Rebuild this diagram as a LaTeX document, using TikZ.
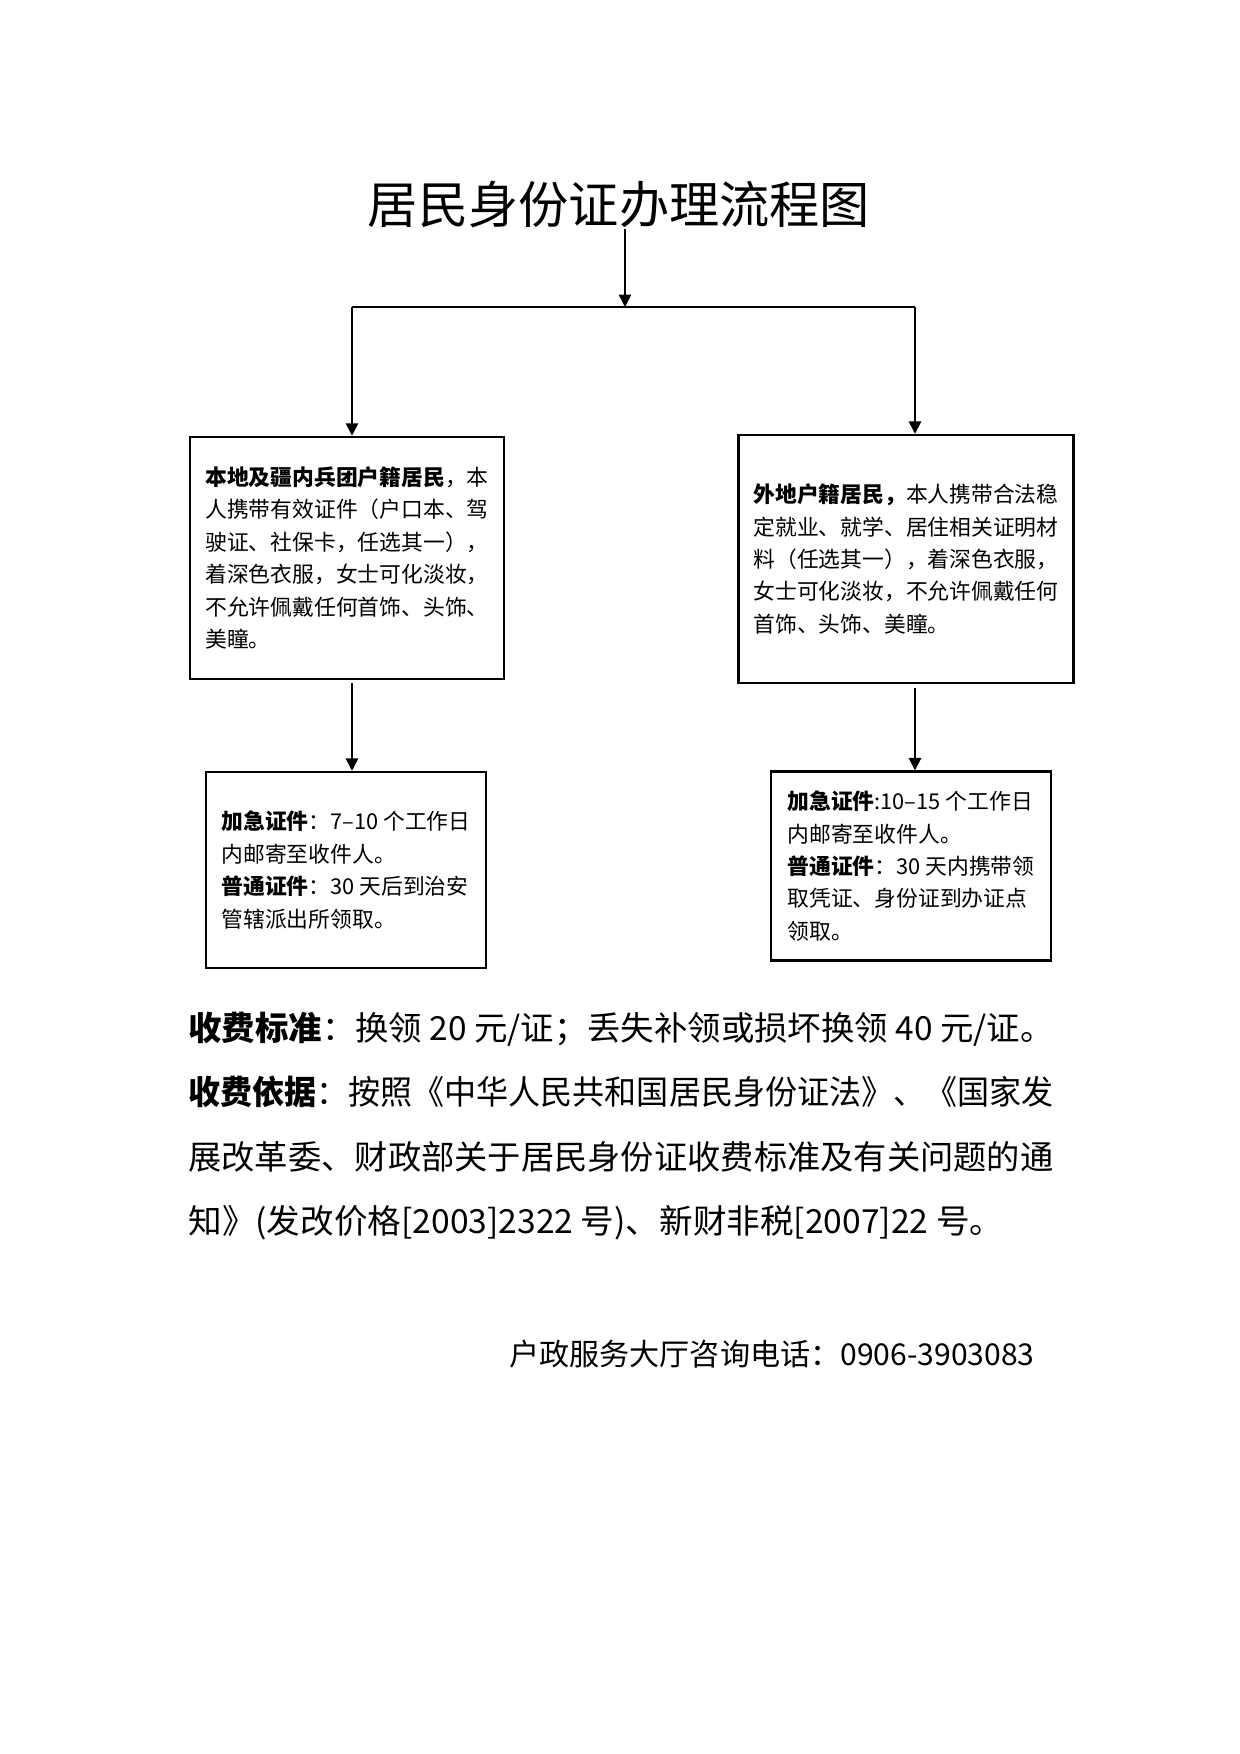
\documentclass[tikz,border=0pt]{standalone}
\usepackage{fontspec}
\usepackage{graphicx}
\setmainfont{Noto Sans CJK SC}
\usetikzlibrary{arrows.meta}
\begin{document}
\begin{tikzpicture}[x=0.16935mm, y=-0.16935mm,
  box/.style={draw, line width=1.2pt, align=left, inner sep=0pt,
    font=\fontsize{10.5pt}{15.6pt}\selectfont},
  link/.style={line width=0.9pt},
  arrow/.style={link, -{Triangle[width=2.1mm,length=2.1mm]}}
  ]
  \useasboundingbox (0,0) rectangle (1240,1754);
  \node (title) [inner sep=0pt, font=\fontsize{24.2pt}{28pt}\selectfont] at (619,205) {居民身份证办理流程图};
  \node (local) [box, minimum width=53.2mm, minimum height=41mm] at (347,558)
    {\textbf{本地及疆内兵团户籍居民}，本\\
     人携带有效证件（户口本、驾\\
     驶证、社保卡，任选其一），\\
     着深色衣服，女士可化淡妆，\\
     不允许佩戴任何首饰、头饰、\\
     美瞳。};
  \node (other) [box, minimum width=56.7mm, minimum height=42mm] at (906,559)
    {\textbf{外地户籍居民，}本人携带合法稳\\
     定就业、就学、居住相关证明材\\
     料（任选其一），着深色衣服，\\
     女士可化淡妆，不允许佩戴任何\\
     首饰、头饰、美瞳。};
  \node (localget) [box, minimum width=47.4mm, minimum height=33.2mm] at (346,870)
    {\textbf{加急证件}：7–10 个工作日\\
     内邮寄至收件人。\\
     \textbf{普通证件}：30 天后到治安\\
     管辖派出所领取。};
  \node (otherget) [box, minimum width=47.4mm, minimum height=32mm] at (911,866)
    {\textbf{加急证件}:10–15 个工作日\\
     内邮寄至收件人。\\
     \textbf{普通证件}：30 天内携带领\\
     取凭证、身份证到办证点\\
     领取。};
  \node (fee) [anchor=west, align=left, inner sep=0pt,
    font=\fontsize{16pt}{31.1pt}\selectfont] at (188,1126)
    {\resizebox{146.5mm}{\height}{\textbf{收费标准}：换领 20 元/证；丢失补领或损坏换领 40 元/证。}\\
     \resizebox{146.5mm}{\height}{\textbf{收费依据}：按照《中华人民共和国居民身份证法》、《国家发}\\
     \resizebox{146.5mm}{\height}{展改革委、财政部关于居民身份证收费标准及有关问题的通}\\
     \resizebox{138mm}{\height}{知》(发改价格[2003]2322 号)、新财非税[2007]22 号。}};
  \node (phone) [anchor=west, inner sep=0pt, font=\fontsize{14.5pt}{18pt}\selectfont] at (509,1354)
    {户政服务大厅咨询电话：0906-3903083};
  % branch points
  \coordinate (split) at (625,307);
  \coordinate (jl) at (352,307);
  \coordinate (jr) at (915,307);
  \draw[arrow, line width=0.7pt] (title.south -| split) -- (split);
  \draw[link] (jl) -- (jr);
  \draw[arrow] (jl) -- (jl |- local.north);
  \draw[arrow] (jr) -- (jr |- other.north);
  \draw[arrow, shorten <=0.5mm] (jl |- local.south) -- (jl |- localget.north);
  \draw[arrow, shorten <=0.6mm] (jr |- other.south) -- (jr |- otherget.north);
\end{tikzpicture}
\end{document}
